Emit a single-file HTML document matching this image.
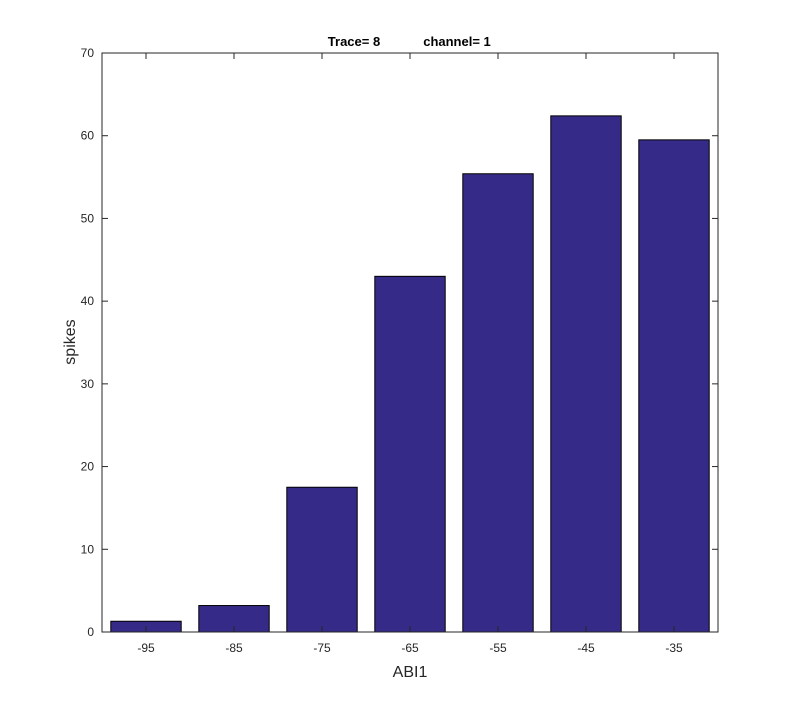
<!DOCTYPE html>
<html><head><meta charset="utf-8"><style>
body{margin:0;background:#fff}
svg text{font-family:"Liberation Sans",Arial,sans-serif}
</style></head><body>
<svg width="792" height="710" viewBox="0 0 792 710">
<rect width="792" height="710" fill="#fff"/>
<g id="plot"></g>
</svg>
<script>
const categories=[-95,-85,-75,-65,-55,-45,-35];
const spikes=[1.3,3.2,17.5,43,55.4,62.4,59.5];
const yTicks=[0,10,20,30,40,50,60,70];
const L=102,R=718,T=53,B=632;
const x=v=>L+(v+100)/70*(R-L);
const y=v=>B-v/70*(B-T);
const g=document.getElementById('plot');
const NS='http://www.w3.org/2000/svg';
function mk(t,a,txt){const e=document.createElementNS(NS,t);for(const k in a)e.setAttribute(k,a[k]);if(txt!==undefined)e.textContent=txt;g.appendChild(e);return e;}
const bw=0.8*10/70*(R-L);
categories.forEach((c,i)=>{
 const r=mk('rect',{x:x(c)-bw/2,y:y(spikes[i]),width:bw,height:y(0)-y(spikes[i]),fill:'#352a87',stroke:'#000','stroke-width':1});
 
 
 mk('line',{x1:x(c),x2:x(c),y1:B,y2:B-6,stroke:'#262626'});
 mk('line',{x1:x(c),x2:x(c),y1:T,y2:T+6,stroke:'#262626'});
 const t=mk('text',{x:x(c),y:B+20,'text-anchor':'middle','font-size':12,fill:'#262626'},c);
 
 
});
yTicks.forEach(v=>{
 mk('line',{x1:L,x2:L+6,y1:y(v),y2:y(v),stroke:'#262626'});
 mk('line',{x1:R,x2:R-6,y1:y(v),y2:y(v),stroke:'#262626'});
 const t=mk('text',{x:L-8,y:y(v)+4,'text-anchor':'end','font-size':12,fill:'#262626'},v);
 
 
});
const box=mk('rect',{x:L,y:T,width:R-L,height:B-T,fill:'none',stroke:'#262626','stroke-width':1});


const tt=mk('text',{x:354,y:46,'text-anchor':'middle','font-size':13,'font-weight':'bold',fill:'#000'},'Trace= 8');


const tc=mk('text',{x:457,y:46,'text-anchor':'middle','font-size':13,'font-weight':'bold',fill:'#000'},'channel= 1');


const xt=mk('text',{x:410,y:677,'text-anchor':'middle','font-size':16,fill:'#262626'},'ABI1');


const yt=mk('text',{x:75,y:342,'text-anchor':'middle','font-size':16,fill:'#262626',transform:'rotate(-90 75 342)'},'spikes');


</script>
</body></html>
